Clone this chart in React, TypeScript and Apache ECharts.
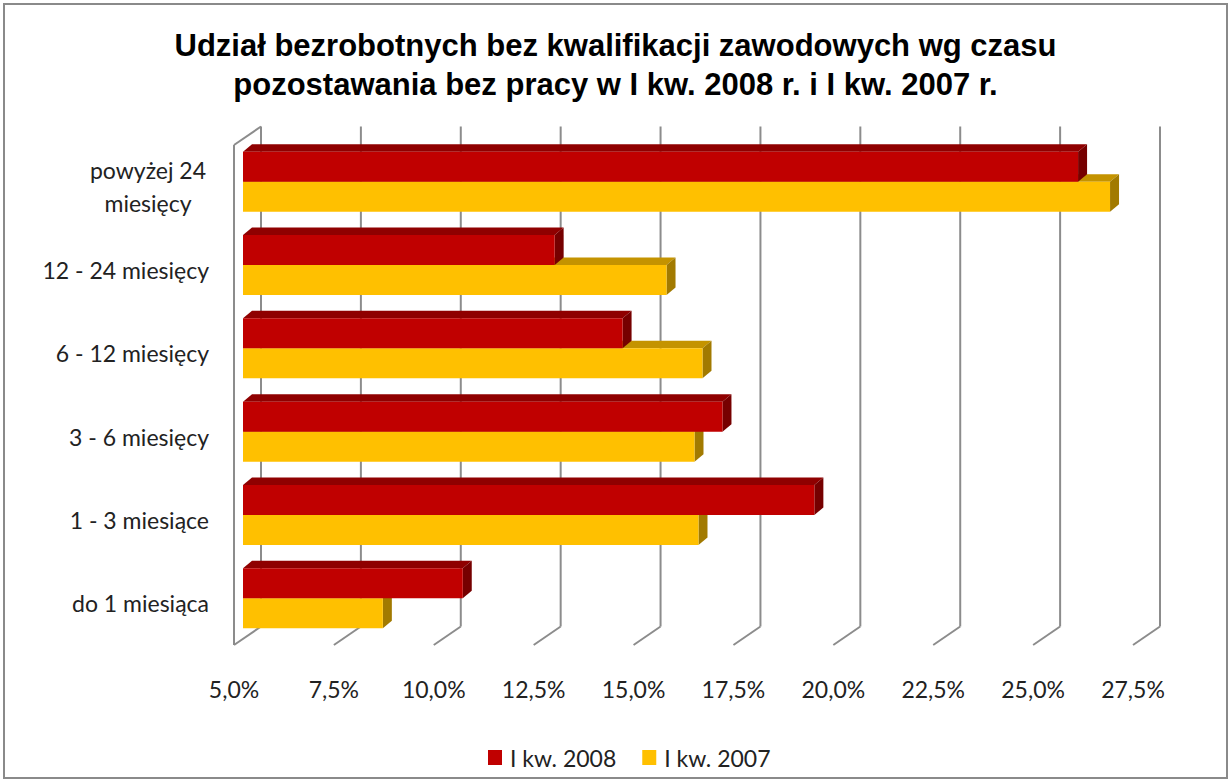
import React, { useEffect, useRef } from 'react';
import * as echarts from 'echarts';

const categories = [
  'do 1 miesiąca',
  '1 - 3 miesiące',
  '3 - 6 miesięcy',
  '6 - 12 miesięcy',
  '12 - 24 miesięcy',
  'powyżej 24 miesięcy',
];
const values2008 = [10.5, 19.3, 17.0, 14.5, 12.8, 25.9];
const values2007 = [8.5, 16.4, 16.3, 16.5, 15.6, 26.7];
const tickValues = [5, 7.5, 10, 12.5, 15, 17.5, 20, 22.5, 25, 27.5];
const seriesNames = ['I kw. 2008', 'I kw. 2007'];
const titleText =
  'Udział bezrobotnych bez kwalifikacji zawodowych wg czasu\npozostawania bez pracy w I kw. 2008 r. i I kw. 2007 r.';

const AXIS_MIN = 5;
const AXIS_MAX = 27.5;
const WALL_DX = 27;
const WALL_DY = -18.5;
const BAR_DX = 9;
const BAR_DY = -7.5;
const LABEL_FONT = 'Lato, "Open Sans", sans-serif';
const LABEL_SIZE = 23;
const LABEL_COLOR = '#222222';

const RED = { front: '#C00000', top: '#8F0000', side: '#760000' };
const YELLOW = { front: '#FFC000', top: '#C49300', side: '#A27A00' };

function makeBarRender(upper: boolean, c: { front: string; top: string; side: string }) {
  return (params: any, api: any) => {
    const v = api.value(0);
    const cat = api.value(1);
    const p0 = api.coord([AXIS_MIN, cat]);
    const p1 = api.coord([v, cat]);
    const band = api.size([0, 1])[1];
    const h = band * 0.36;
    const x0 = p0[0] + BAR_DX;
    const x1 = p1[0] + BAR_DX;
    const mid = p0[1] - band * 0.06;
    const yTop = upper ? mid - h : mid;
    const yBot = yTop + h;
    return {
      type: 'group',
      children: [
        {
          type: 'polygon',
          shape: { points: [[x0, yTop], [x0 + BAR_DX, yTop + BAR_DY], [x1 + BAR_DX, yTop + BAR_DY], [x1, yTop]] },
          style: { fill: c.top },
        },
        {
          type: 'polygon',
          shape: { points: [[x1, yTop], [x1 + BAR_DX, yTop + BAR_DY], [x1 + BAR_DX, yBot + BAR_DY], [x1, yBot]] },
          style: { fill: c.side },
        },
        {
          type: 'rect',
          shape: { x: x0, y: yTop, width: x1 - x0, height: h },
          style: { fill: c.front },
        },
      ],
    };
  };
}

function gridRender(params: any, api: any) {
  const v = api.value(0);
  const cs = params.coordSys;
  const x = api.coord([v, 0])[0];
  const top = cs.y;
  const bottom = cs.y + cs.height;
  const lineStyle = { stroke: '#8C8C8C', lineWidth: 2, fill: null };
  const children: any[] = [
    { type: 'line', shape: { x1: x + WALL_DX, y1: top + WALL_DY, x2: x + WALL_DX, y2: bottom + WALL_DY }, style: lineStyle },
    { type: 'line', shape: { x1: x + WALL_DX, y1: bottom + WALL_DY, x2: x, y2: bottom }, style: lineStyle },
  ];
  if (v === AXIS_MIN) {
    children.push(
      { type: 'line', shape: { x1: x, y1: top, x2: x, y2: bottom }, style: lineStyle },
      { type: 'line', shape: { x1: x, y1: top, x2: x + WALL_DX, y2: top + WALL_DY }, style: lineStyle }
    );
  }
  return { type: 'group', children };
}

export default function App() {
  const ref = useRef<HTMLDivElement>(null);
  useEffect(() => {
    if (!ref.current) return;
    const chart = echarts.init(ref.current, null, { renderer: 'svg' });
    chart.setOption({
      animation: false,
      backgroundColor: '#ffffff',
      title: {
        text: titleText,
        left: 'center',
        top: 21,
        textStyle: {
          fontFamily: '"Liberation Sans Narrow", "Liberation Sans", Arial, sans-serif',
          fontWeight: 'bold',
          fontSize: 31,
          lineHeight: 39,
          color: '#000000',
        },
      },
      graphic: [
        {
          type: 'rect',
          shape: { x: 4, y: 4, width: 1223, height: 774 },
          style: { fill: null, stroke: '#8A8A8A', lineWidth: 2 },
          silent: true,
        },
      ],
      legend: {
        data: seriesNames,
        left: 483,
        top: 741,
        icon: 'rect',
        itemWidth: 14,
        itemHeight: 15,
        itemGap: 26,
        textStyle: { fontFamily: LABEL_FONT, fontSize: LABEL_SIZE, color: LABEL_COLOR, padding: [0, 0, 0, 3] },
      },
      grid: { left: 234, right: 98, top: 145, bottom: 137 },
      xAxis: {
        type: 'value',
        min: AXIS_MIN,
        max: AXIS_MAX,
        interval: 2.5,
        axisLine: { show: false },
        axisTick: { show: false },
        splitLine: { show: false },
        axisLabel: {
          margin: 32,
          fontFamily: LABEL_FONT,
          fontSize: LABEL_SIZE,
          color: LABEL_COLOR,
          formatter: (v: number) => v.toFixed(1).replace('.', ',') + '%',
        },
      },
      yAxis: {
        type: 'category',
        data: categories,
        axisLine: { show: false },
        axisTick: { show: false },
        splitLine: { show: false },
        axisLabel: {
          margin: 25,
          fontFamily: LABEL_FONT,
          fontSize: LABEL_SIZE,
          color: LABEL_COLOR,
          lineHeight: 33,
          formatter: (v: string) =>
            v === 'powyżej 24 miesięcy' ? '{c|powyżej 24}\n{c|miesięcy}' : v,
          rich: {
            c: { width: 122, align: 'center', fontFamily: LABEL_FONT, fontSize: LABEL_SIZE, color: LABEL_COLOR, lineHeight: 33 },
          },
        },
      },
      series: [
        {
          type: 'custom',
          name: 'grid',
          z: 1,
          silent: true,
          renderItem: gridRender,
          data: tickValues.map((v) => [v, 0]),
          encode: { x: 0, y: 1 },
        },
        {
          type: 'custom',
          name: seriesNames[1],
          z: 2,
          itemStyle: { color: YELLOW.front },
          renderItem: makeBarRender(false, YELLOW),
          data: values2007.map((v, i) => [v, i]),
          encode: { x: 0, y: 1 },
        },
        {
          type: 'custom',
          name: seriesNames[0],
          z: 3,
          itemStyle: { color: RED.front },
          renderItem: makeBarRender(true, RED),
          data: values2008.map((v, i) => [v, i]),
          encode: { x: 0, y: 1 },
        },
      ],
    });
    return () => chart.dispose();
  }, []);
  return <div ref={ref} style={{ position: 'absolute', left: 0, top: 0, width: 1231, height: 782 }} />;
}
